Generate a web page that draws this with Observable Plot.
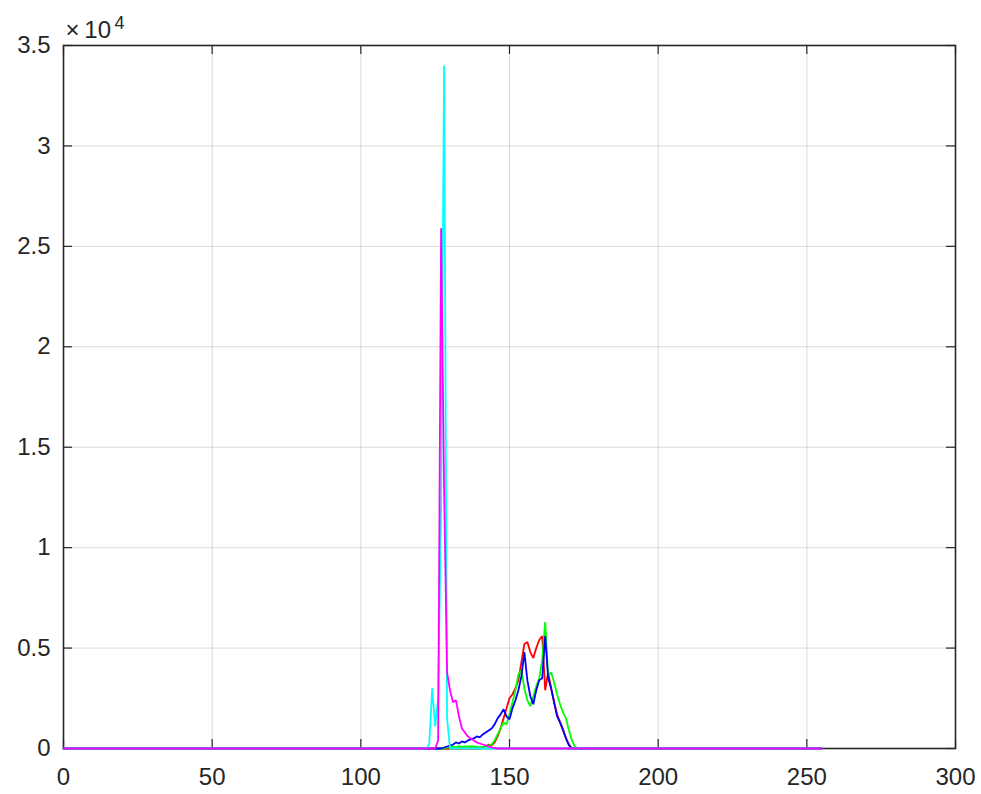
<!DOCTYPE html>
<html>
<head>
<meta charset="utf-8">
<script src="https://cdn.jsdelivr.net/npm/d3@7"></script>
<script src="https://cdn.jsdelivr.net/npm/@observablehq/plot@0.6"></script>
<style>
  html, body { margin: 0; padding: 0; background: #ffffff; }
  #chart { width: 981px; height: 794px; }
</style>
</head>
<body>
<div id="chart"></div>
<script>
// Histogram bins 0..255 (intensity levels); counts.
const binCount = 256;

// Each series: first bin of its non-zero stretch, then the counts read there (zero elsewhere).
const redStart = 140;   // bins 140..171
const redCounts = [0, 50, 100, 200, 150, 300, 600, 1000, 1500, 2000,
                   2500, 2700, 3000, 3400, 4300, 5200, 5300, 4800, 4500, 5000,
                   5400, 5600, 2900, 3800, 3000, 2300, 1700, 1300, 900, 500,
                   200, 0];

const greenStart = 128; // bins 128..174
const greenCounts = [0, 50, 80, 100, 60, 120, 80, 100, 90, 120,
                     100, 80, 60, 80, 100, 150, 200, 400, 700, 1000,
                     1300, 1200, 1700, 2300, 2900, 3700, 3900, 3000, 2400, 2100,
                     2600, 3100, 3500, 4400, 6300, 3600, 3800, 3300, 2700, 2200,
                     1800, 1500, 900, 400, 100, 0];

const blueStart = 127;  // bins 127..171
const blueCounts = [0, 50, 100, 150, 200, 300, 250, 350, 300, 400,
                    450, 500, 600, 550, 700, 800, 900, 1000, 1200, 1500,
                    1700, 1950, 1600, 1450, 2000, 2400, 2900, 3600, 4800, 3400,
                    2600, 2200, 2900, 3400, 3500, 5600, 3500, 3000, 2300, 1600,
                    1300, 950, 500, 150, 0];

const cyanStart = 122;  // bins 122..130
const cyanCounts = [0, 200, 3000, 1100, 2500, 12000, 34000, 1500, 0];

const magentaStart = 125; // bins 125..146
const magentaCounts = [0, 400, 25900, 13000, 3800, 2900, 2300, 2400, 1600, 1000,
                       800, 600, 500, 400, 300, 250, 200, 150, 100, 60,
                       30, 0];

const seriesNames = ["red", "green", "blue", "cyan", "magenta"];
const seriesColors = ["#ff0000", "#00ff00", "#0000ff", "#00ffff", "#ff00ff"];

const xTicks = [0, 50, 100, 150, 200, 250, 300];
const xTickLabels = ["0", "50", "100", "150", "200", "250", "300"];
const yTicks = [0, 5000, 10000, 15000, 20000, 25000, 30000, 35000];
const yTickLabels = ["0", "0.5", "1", "1.5", "2", "2.5", "3", "3.5"];
const exponentBase = "×\u200910";
const exponentPower = "4";

// Build full 0..255 series (bins outside the stretch read as zero)
function buildSeries(name, start, counts) {
  const rows = [];
  for (let b = 0; b < binCount; b++) {
    const k = b - start;
    const v = (k >= 0 && k < counts.length) ? counts[k] : 0;
    rows.push({series: name, bin: b, count: v});
  }
  return rows;
}
const seriesData = [
  buildSeries("red", redStart, redCounts),
  buildSeries("green", greenStart, greenCounts),
  buildSeries("blue", blueStart, blueCounts),
  buildSeries("cyan", cyanStart, cyanCounts),
  buildSeries("magenta", magentaStart, magentaCounts)
];

const W = 981, H = 794;
const mL = 63, mR = 26, mT = 45, mB = 46;
const innerH = H - mT - mB;
const innerW = W - mL - mR;
const tickLen = 9;
const axisColor = "#262626";

const marks = [
  Plot.gridX(xTicks, {stroke: axisColor, strokeOpacity: 0.17, strokeWidth: 1}),
  Plot.gridY(yTicks, {stroke: axisColor, strokeOpacity: 0.17, strokeWidth: 1}),
  // inward ticks on all four sides
  Plot.tickX(xTicks, {x: d => d, insetTop: innerH - tickLen, stroke: axisColor, strokeWidth: 1.2}),
  Plot.tickX(xTicks, {x: d => d, insetBottom: innerH - tickLen, stroke: axisColor, strokeWidth: 1.2}),
  Plot.tickY(yTicks, {y: d => d, insetRight: innerW - tickLen, stroke: axisColor, strokeWidth: 1.2}),
  Plot.tickY(yTicks, {y: d => d, insetLeft: innerW - tickLen, stroke: axisColor, strokeWidth: 1.2}),
  Plot.frame({stroke: axisColor, strokeWidth: 1.6})
];
seriesData.forEach((rows, i) => {
  marks.push(Plot.line(rows, {x: "bin", y: "count", stroke: seriesColors[i], strokeWidth: 1.8, strokeLinejoin: "miter"}));
});
marks.push(
  Plot.axisX({ticks: xTicks, tickFormat: d => xTickLabels[xTicks.indexOf(d)], tickSize: 0, tickPadding: 19, fontSize: 24, color: axisColor, label: null}),
  Plot.axisY({ticks: yTicks, tickFormat: d => yTickLabels[yTicks.indexOf(d)], tickSize: 0, tickPadding: 13, fontSize: 24, color: axisColor, label: null}),
  Plot.text([exponentBase], {text: d => d, frameAnchor: "top-left", textAnchor: "start", lineAnchor: "middle", dx: 2, dy: -15.5, fontSize: 24, fill: axisColor}),
  Plot.text([exponentPower], {text: d => d, frameAnchor: "top-left", textAnchor: "start", lineAnchor: "middle", dx: 51, dy: -22, fontSize: 18, fill: axisColor})
);

const chart = Plot.plot({
  width: W,
  height: H,
  marginLeft: mL,
  marginRight: mR,
  marginTop: mT,
  marginBottom: mB,
  x: {domain: [0, 300]},
  y: {domain: [0, 35000]},
  style: {fontFamily: "'Liberation Sans', Arial, Helvetica, sans-serif", background: "#ffffff", color: axisColor, overflow: "visible"},
  marks
});
document.getElementById("chart").appendChild(chart);
</script>
</body>
</html>
